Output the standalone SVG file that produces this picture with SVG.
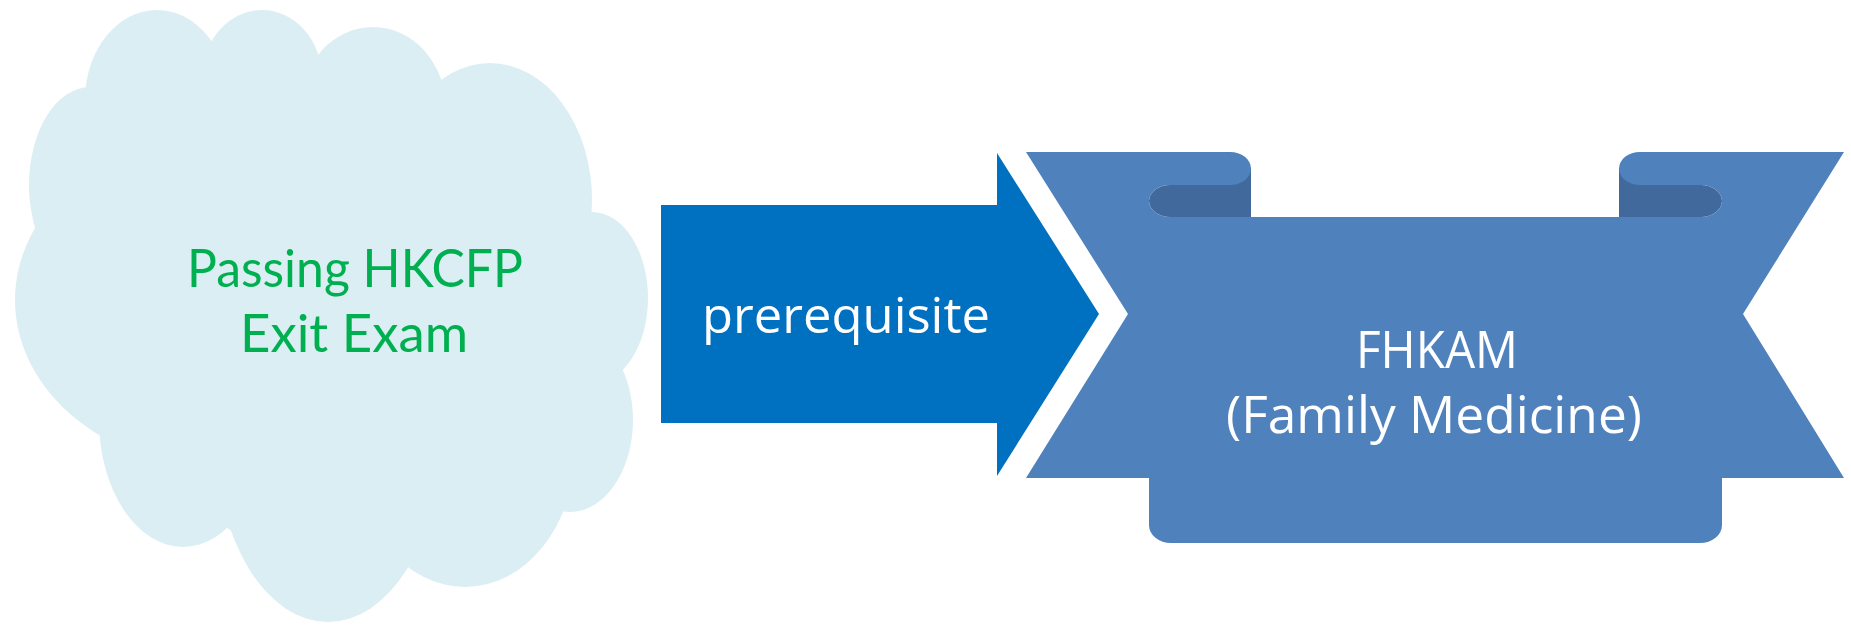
<svg xmlns="http://www.w3.org/2000/svg" width="1851" height="625" viewBox="0 0 1851 625">
<style>
.cloud{fill:#DBEEF4}
.ctext{font-family:Lato,"Open Sans","Liberation Sans",sans-serif;font-size:52px;fill:#00B050;text-anchor:middle}
.wtext{font-family:"Open Sans","Noto Sans","Liberation Sans",sans-serif;fill:#FFFFFF;text-anchor:middle}
.ribbon{fill:#4F81BD}
.fold{fill:#41699B}
.arrow{fill:#0070C0}
</style>
<rect x="0" y="0" width="1851" height="625" fill="#FFFFFF"/>
<g id="cloud">
  <polygon class="cloud" points="87,87 211,42 318,55 442,82 590,213 617,370 562,512 406,565 230,530 100,436 35,228"/>
  <ellipse class="cloud" cx="157" cy="100" rx="72" ry="90"/>
  <ellipse class="cloud" cx="262" cy="78" rx="60" ry="68"/>
  <ellipse class="cloud" cx="373" cy="109" rx="73" ry="82"/>
  <ellipse class="cloud" cx="490" cy="200" rx="102" ry="137"/>
  <ellipse class="cloud" cx="592" cy="298" rx="56" ry="86"/>
  <ellipse class="cloud" cx="570" cy="420" rx="63" ry="92"/>
  <ellipse class="cloud" cx="465" cy="450" rx="110" ry="137"/>
  <ellipse class="cloud" cx="328" cy="440" rx="112" ry="182"/>
  <ellipse class="cloud" cx="183" cy="420" rx="84" ry="127"/>
  <ellipse class="cloud" cx="226" cy="300" rx="211" ry="169"/>
  <ellipse class="cloud" cx="90" cy="185" rx="61" ry="98"/>
  <text class="ctext" x="355" y="287" textLength="336" lengthAdjust="spacingAndGlyphs">Passing HKCFP</text>
  <text class="ctext" x="354" y="352" textLength="228" lengthAdjust="spacingAndGlyphs">Exit Exam</text>
</g>
<g id="connectors">
  <g id="arrow">
    <polygon class="arrow" points="661,205 997,205 997,153 1099,314 997,476 997,423 661,423"/>
    <text class="wtext" x="846" y="333" font-size="50" textLength="288" lengthAdjust="spacingAndGlyphs">prerequisite</text>
  </g>
</g>
<g id="ribbon">
  <path class="fold" d="M1230,168 L1251,168 L1251,217 L1170,217 A21,16 0 0 1 1170,185 L1230,185 Z"/>
  <path class="fold" d="M1619,168 L1640,168 L1640,185 L1701,185 A21,16 0 0 1 1701,217 L1619,217 Z"/>
  <path class="ribbon" d="M1026,152 L1230,152 A21,16.5 0 0 1 1230,185 L1170,185 A21,16 0 0 0 1170,217 L1701,217 A21,16 0 0 0 1701,185 L1640,185 A21,16.5 0 0 1 1640,152 L1844,152 L1743,314 L1844,478 L1722,478 L1722,525 A22,18 0 0 1 1700,543 L1171,543 A22,18 0 0 1 1149,525 L1149,478 L1026,478 L1128,314 Z"/>
  <text class="wtext" x="1437" y="368" font-size="52" textLength="162" lengthAdjust="spacingAndGlyphs">FHKAM</text>
  <text class="wtext" x="1434" y="433" font-size="52" textLength="416" lengthAdjust="spacingAndGlyphs">(Family Medicine)</text>
</g>
</svg>
